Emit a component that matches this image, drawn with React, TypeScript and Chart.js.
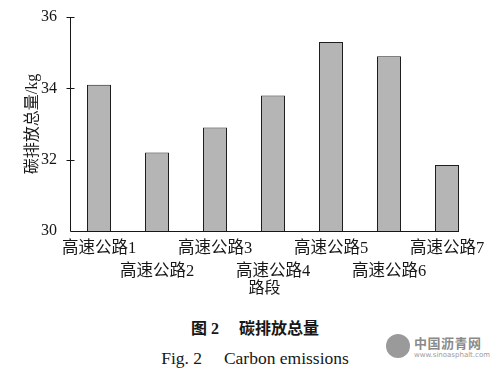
import React, { useEffect, useRef } from "react";
import { Chart, registerables } from "chart.js";

Chart.register(...registerables);

const categories = ["高速公路1", "高速公路2", "高速公路3", "高速公路4", "高速公路5", "高速公路6", "高速公路7"];
const emissions = [34.1, 32.2, 32.9, 33.8, 35.3, 34.9, 31.85];
const yTicks = [30, 32, 34, 36];
const xTitle = "路段";
const yTitle = "碳排放总量/kg";
const captionCn = "图 2　 碳排放总量";
const captionEn = "Fig. 2　 Carbon emissions";
const watermarkCn = "中国沥青网";
const watermarkEn = "www.sinoasphalt.com";

const FONT = "'Liberation Serif', 'Noto Sans CJK SC', serif";
const INK = "#161616";

const axisPlugin = {
  id: "axisLines",
  afterDraw(chart: any) {
    const { ctx, chartArea } = chart;
    const meta = chart.getDatasetMeta(0);
    const last = meta.data[meta.data.length - 1] as any;
    const endX = last.x + last.width / 2;
    const x0 = Math.round(chartArea.left) + 0.5;
    const yb = Math.round(chartArea.bottom) + 0.5;
    ctx.save();
    ctx.strokeStyle = INK;
    ctx.lineWidth = 1;
    ctx.beginPath();
    ctx.moveTo(x0, Math.round(chartArea.top));
    ctx.lineTo(x0, yb);
    ctx.lineTo(endX, yb);
    const yScale = chart.scales.y;
    yScale.ticks.forEach((t: any) => {
      if (t.value === yScale.min) return;
      const py = Math.round(yScale.getPixelForValue(t.value)) + 0.5;
      ctx.moveTo(x0 - 4, py);
      ctx.lineTo(x0 + 4, py);
    });
    ctx.stroke();
    ctx.fillStyle = INK;
    ctx.font = `16px ${FONT}`;
    ctx.textAlign = "center";
    ctx.textBaseline = "middle";
    ctx.fillText(xTitle, (chartArea.left + endX) / 2, chartArea.bottom + 58);
    ctx.restore();
  },
};

function BarChart() {
  const ref = useRef<HTMLCanvasElement>(null);
  useEffect(() => {
    if (!ref.current) return;
    const chart = new Chart(ref.current, {
      type: "bar",
      data: {
        labels: categories,
        datasets: [
          {
            data: emissions,
            backgroundColor: "#b5b5b5",
            borderColor: "#1e1e1e",
            borderWidth: 1,
            barPercentage: 24 / 58,
            categoryPercentage: 1,
          },
        ],
      },
      options: {
        responsive: false,
        maintainAspectRatio: false,
        animation: false,
        layout: { padding: { left: 0, top: 17, right: 26, bottom: 0 } },
        plugins: { legend: { display: false }, tooltip: { enabled: false } },
        scales: {
          x: {
            type: "category",
            offset: true,
            grid: { display: false },
            border: { display: false },
            ticks: {
              autoSkip: false,
              maxRotation: 0,
              minRotation: 0,
              padding: -2,
              color: INK,
              font: { family: FONT, size: 16.5, lineHeight: 1.4 },
              callback: (_v: any, i: number) => (i % 2 === 0 ? categories[i] : ["", categories[i]]),
            },
            afterFit: (s: any) => {
              s.height = 69;
            },
          },
          y: {
            min: 30,
            max: 36,
            grid: { display: false },
            border: { display: false },
            afterBuildTicks: (s: any) => {
              s.ticks = yTicks.map((v) => ({ value: v }));
            },
            ticks: {
              padding: 5,
              color: INK,
              font: { family: FONT, size: 16 },
            },
            title: {
              display: true,
              text: yTitle,
              color: INK,
              font: { family: FONT, size: 16, lineHeight: 1.2 },
              padding: { top: 23, bottom: 0 },
            },
            afterFit: (s: any) => {
              s.width = 70;
            },
          },
        },
      } as any,
      plugins: [axisPlugin],
    });
    return () => chart.destroy();
  }, []);
  return <canvas ref={ref} width={502} height={300} style={{ display: "block" }} />;
}

export default function App() {
  return (
    <div style={{ position: "absolute", left: 0, top: 0, width: 502, height: 378, background: "#fff", overflow: "hidden" }}>
      <BarChart />
      <div
        style={{
          position: "absolute",
          left: 0,
          width: 510,
          top: 318,
          textAlign: "center",
          fontFamily: FONT,
          fontSize: 16,
          fontWeight: 700,
          color: INK,
          whiteSpace: "pre",
          lineHeight: "22px",
        }}
      >
        {captionCn}
      </div>
      <div
        style={{
          position: "absolute",
          left: 0,
          width: 510,
          top: 347,
          textAlign: "center",
          fontFamily: FONT,
          fontSize: 17.5,
          color: INK,
          whiteSpace: "pre",
          lineHeight: "22px",
        }}
      >
        {captionEn}
      </div>
      <div
        style={{
          position: "absolute",
          left: 386,
          top: 334,
          width: 24,
          height: 24,
          borderRadius: 12,
          background: "#9a9a9a",
        }}
      />
      <div
        style={{
          position: "absolute",
          left: 414,
          top: 335,
          fontFamily: "'Noto Sans CJK SC', sans-serif",
          fontSize: 13,
          fontWeight: 700,
          color: "#8a8a8a",
          lineHeight: "16px",
          letterSpacing: 0.5,
        }}
      >
        {watermarkCn}
      </div>
      <div
        style={{
          position: "absolute",
          left: 414,
          top: 351,
          fontFamily: "'DejaVu Sans', sans-serif",
          fontSize: 7,
          color: "#9a9a9a",
          lineHeight: "9px",
        }}
      >
        {watermarkEn}
      </div>
    </div>
  );
}
